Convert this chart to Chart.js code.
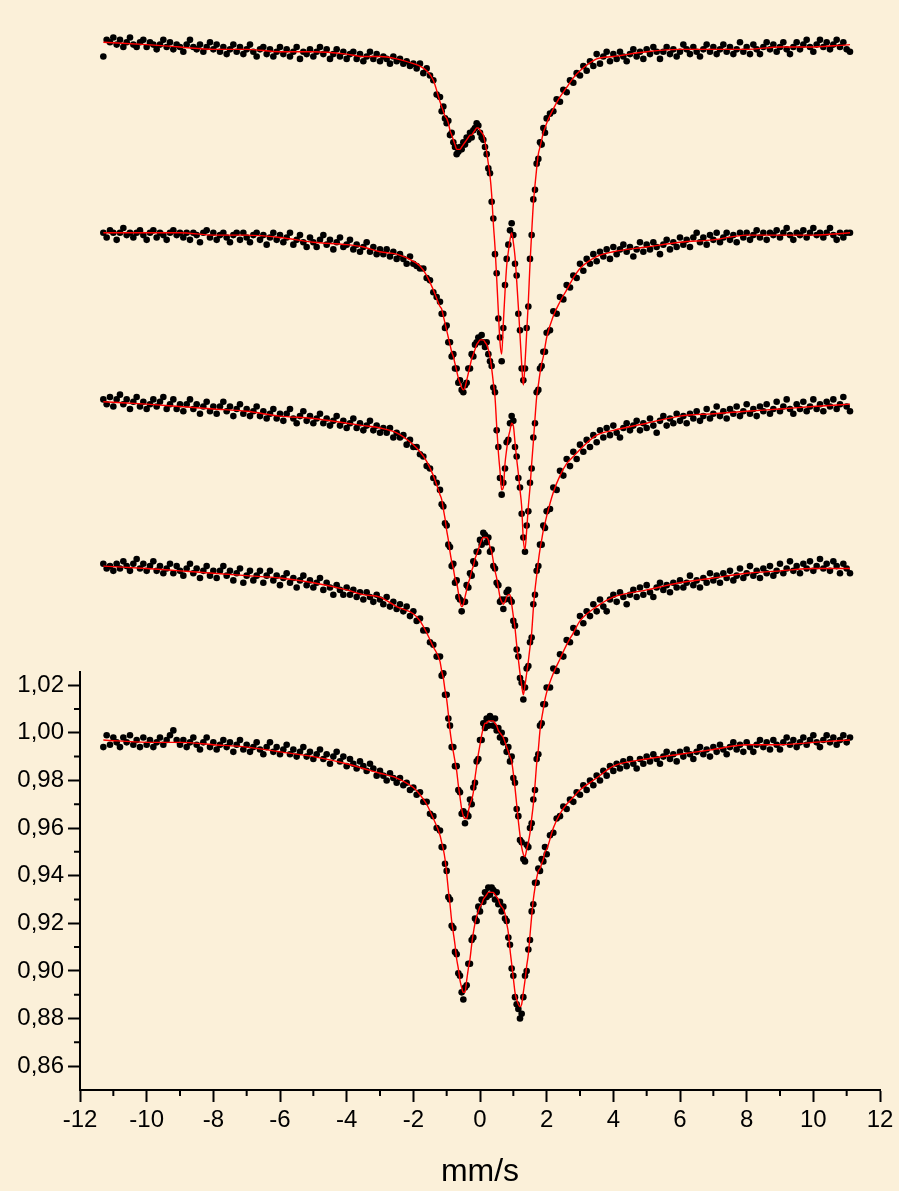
<!DOCTYPE html>
<html>
<head>
<meta charset="utf-8">
<script src="https://cdn.jsdelivr.net/npm/chart.js@4.4.1/dist/chart.umd.min.js"></script>
<style>
  html, body { margin: 0; padding: 0; background: #fbf0d9; }
  #wrap { width: 899px; height: 1191px; }
</style>
</head>
<body>
<div id="wrap"><canvas id="spectra" width="899" height="1191"></canvas></div>
<script>
// velocity channels (mm/s) for the measured points
const dotX = [
  -11.3,-11.2,-11.1,-11,-10.9,-10.8,-10.7,-10.6,-10.5,-10.4,-10.3,-10.2,-10.1,-10,
  -9.9,-9.8,-9.7,-9.6,-9.5,-9.4,-9.3,-9.2,-9.1,-9,
  -8.9,-8.8,-8.7,-8.6,-8.5,-8.4,-8.3,-8.2,-8.1,-8,
  -7.9,-7.8,-7.7,-7.6,-7.5,-7.4,-7.3,-7.2,-7.1,-7,
  -6.9,-6.8,-6.7,-6.6,-6.5,-6.4,-6.3,-6.2,-6.1,-6,
  -5.9,-5.8,-5.7,-5.6,-5.5,-5.4,-5.3,-5.2,-5.1,-5,
  -4.9,-4.8,-4.7,-4.6,-4.5,-4.4,-4.3,-4.2,-4.1,-4,
  -3.9,-3.8,-3.7,-3.6,-3.5,-3.4,-3.3,-3.2,-3.1,-3,
  -2.9,-2.8,-2.7,-2.6,-2.5,-2.4,-2.3,-2.2,-2.1,-2,
  -1.9,-1.8,-1.7,-1.6,-1.5,-1.4,-1.3,
  -1.2,-1.15,-1.1,-1.05,-1,-0.95,-0.9,-0.85,-0.8,-0.75,
  -0.7,-0.65,-0.6,-0.55,-0.5,-0.45,-0.4,-0.35,-0.3,-0.25,
  -0.2,-0.15,-0.1,-0.05,0,0.05,0.1,0.15,0.2,0.25,
  0.3,0.35,0.4,0.45,0.5,0.55,0.6,0.65,0.7,0.75,
  0.8,0.85,0.9,0.95,1,1.05,1.1,1.15,1.2,1.25,
  1.3,1.35,1.4,1.45,1.5,1.55,1.6,1.65,1.7,1.75,
  1.8,1.85,1.9,1.95,2,
  2.1,2.2,2.3,2.4,2.5,2.6,2.7,2.8,2.9,3,
  3.1,3.2,3.3,3.4,3.5,3.6,3.7,3.8,3.9,4,
  4.1,4.2,4.3,4.4,4.5,4.6,4.7,4.8,4.9,
  5,5.1,5.2,5.3,5.4,5.5,5.6,5.7,5.8,5.9,
  6,6.1,6.2,6.3,6.4,6.5,6.6,6.7,6.8,6.9,
  7,7.1,7.2,7.3,7.4,7.5,7.6,7.7,7.8,7.9,
  8,8.1,8.2,8.3,8.4,8.5,8.6,8.7,8.8,8.9,
  9,9.1,9.2,9.3,9.4,9.5,9.6,9.7,9.8,9.9,
  10,10.1,10.2,10.3,10.4,10.5,10.6,10.7,10.8,10.9,
  11,11.1
];

// velocities where the fitted curves are given
const lineX = [
  -11.3,-10,-9,-8,-7,-6,-5,-4,-3.5,-3,-2.5,-2,-1.8,-1.6,-1.4,
  -1.2,-1.15,-1.1,-1.05,-1,-0.95,-0.9,-0.85,-0.8,-0.75,
  -0.7,-0.65,-0.6,-0.55,-0.5,-0.45,-0.4,-0.35,-0.3,-0.25,
  -0.2,-0.15,-0.1,-0.05,0,0.05,0.1,0.15,0.2,0.25,
  0.3,0.35,0.4,0.45,0.5,0.55,0.6,0.65,0.7,0.75,
  0.8,0.85,0.9,0.95,1,1.05,1.1,1.15,1.2,1.25,
  1.3,1.35,1.4,1.45,1.5,1.55,1.6,1.65,1.7,1.75,
  1.8,1.85,1.9,1.95,2,
  2.2,2.4,2.6,2.8,3,3.5,4,5,6,7,8,9,10,11.1
];

// measured points, spectrum 1 (top) .. 5 (bottom)
const dots1 = [
  1.284,1.291,1.290,1.292,1.289,1.291,1.288,1.290,1.292,1.289,1.288,1.290,1.291,1.288,
  1.290,1.289,1.287,1.289,1.291,1.288,1.290,1.287,1.289,1.288,
  1.286,1.289,1.291,1.288,1.287,1.289,1.286,1.288,1.290,1.287,
  1.289,1.286,1.288,1.285,1.287,1.289,1.286,1.288,1.285,1.287,
  1.289,1.286,1.284,1.287,1.288,1.285,1.287,1.284,1.286,1.288,
  1.285,1.287,1.284,1.286,1.288,1.283,1.286,1.285,1.287,1.284,
  1.286,1.288,1.285,1.287,1.283,1.285,1.287,1.284,1.286,1.283,
  1.285,1.286,1.283,1.285,1.282,1.284,1.286,1.283,1.285,1.282,
  1.284,1.283,1.281,1.284,1.282,1.283,1.281,1.282,1.280,1.281,
  1.279,1.281,1.277,1.279,1.276,1.274,1.268,
  1.267,1.261,1.263,1.258,1.256,1.257,1.251,1.252,1.248,1.246,
  1.243,1.244,1.246,1.245,1.248,1.247,1.250,1.249,1.252,1.250,
  1.253,1.254,1.256,1.255,1.252,1.250,1.249,1.246,1.243,1.237,
  1.235,1.223,1.216,1.201,1.193,1.174,1.166,1.156,1.170,1.188,
  1.199,1.205,1.211,1.214,1.209,1.197,1.192,1.176,1.169,1.153,
  1.148,1.153,1.170,1.179,1.199,1.209,1.224,1.228,1.239,1.241,
  1.248,1.247,1.254,1.252,1.258,
  1.260,1.261,1.266,1.265,1.270,1.269,1.274,1.273,1.277,1.276,
  1.280,1.278,1.282,1.280,1.285,1.281,1.284,1.286,1.282,1.285,
  1.283,1.286,1.284,1.282,1.285,1.287,1.284,1.286,1.283,
  1.287,1.285,1.288,1.286,1.283,1.286,1.288,1.285,1.287,1.284,
  1.286,1.289,1.287,1.285,1.288,1.286,1.284,1.287,1.289,1.286,
  1.288,1.285,1.287,1.289,1.286,1.288,1.285,1.287,1.290,1.286,
  1.288,1.285,1.289,1.287,1.285,1.288,1.290,1.287,1.289,1.286,
  1.288,1.290,1.287,1.285,1.288,1.290,1.287,1.289,1.291,1.288,
  1.286,1.289,1.291,1.288,1.290,1.287,1.289,1.291,1.288,1.290,
  1.287,1.286
];
const dots2 = [
  1.210,1.208,1.211,1.210,1.207,1.210,1.212,1.209,1.210,1.208,1.210,1.211,1.209,1.207,
  1.210,1.211,1.208,1.210,1.209,1.207,1.210,1.211,1.209,1.210,
  1.208,1.210,1.207,1.210,1.209,1.206,1.210,1.211,1.208,1.210,
  1.207,1.209,1.210,1.208,1.206,1.209,1.210,1.207,1.210,1.208,
  1.206,1.209,1.210,1.207,1.209,1.205,1.208,1.210,1.207,1.209,
  1.206,1.208,1.210,1.205,1.207,1.209,1.206,1.204,1.208,1.206,
  1.204,1.207,1.209,1.205,1.207,1.203,1.206,1.208,1.204,1.205,
  1.207,1.203,1.205,1.202,1.204,1.206,1.202,1.204,1.201,1.203,
  1.201,1.203,1.200,1.202,1.199,1.201,1.199,1.197,1.200,1.197,
  1.196,1.195,1.195,1.191,1.190,1.185,1.183,
  1.181,1.176,1.176,1.170,1.171,1.164,1.164,1.158,1.159,1.153,
  1.153,1.147,1.148,1.144,1.143,1.146,1.147,1.153,1.153,1.159,
  1.158,1.163,1.164,1.166,1.164,1.167,1.164,1.162,1.164,1.159,
  1.156,1.154,1.145,1.143,1.127,1.120,1.107,1.100,1.105,1.111,
  1.122,1.123,1.130,1.133,1.131,1.120,1.116,1.107,1.103,1.092,
  1.082,1.076,1.087,1.093,1.105,1.111,1.124,1.130,1.143,1.144,
  1.153,1.154,1.160,1.160,1.168,
  1.169,1.177,1.176,1.183,1.182,1.188,1.187,1.192,1.191,1.197,
  1.194,1.199,1.197,1.201,1.198,1.202,1.200,1.203,1.199,1.204,
  1.201,1.203,1.205,1.202,1.204,1.200,1.203,1.206,1.202,1.205,
  1.203,1.206,1.204,1.201,1.205,1.207,1.203,1.206,1.204,1.208,
  1.205,1.207,1.204,1.208,1.210,1.206,1.208,1.205,1.209,1.207,
  1.210,1.206,1.208,1.210,1.207,1.209,1.206,1.210,1.208,1.210,
  1.207,1.209,1.211,1.208,1.210,1.207,1.210,1.209,1.211,1.208,
  1.210,1.212,1.209,1.207,1.210,1.209,1.211,1.208,1.210,1.212,
  1.209,1.210,1.208,1.210,1.212,1.209,1.207,1.210,1.208,1.210,1.210
];
const dots3 = [
  1.140,1.138,1.141,1.137,1.140,1.142,1.138,1.140,1.136,1.139,1.141,1.137,1.139,1.136,
  1.138,1.140,1.137,1.139,1.141,1.136,1.138,1.140,1.136,1.138,
  1.135,1.138,1.140,1.136,1.138,1.134,1.137,1.139,1.135,1.137,
  1.134,1.137,1.139,1.135,1.137,1.133,1.136,1.138,1.134,1.136,
  1.133,1.135,1.137,1.133,1.135,1.132,1.134,1.136,1.132,1.134,
  1.131,1.134,1.136,1.132,1.130,1.133,1.135,1.131,1.133,1.130,
  1.132,1.134,1.130,1.132,1.129,1.131,1.133,1.129,1.131,1.128,
  1.130,1.132,1.128,1.130,1.127,1.129,1.131,1.127,1.129,1.126,
  1.128,1.126,1.128,1.124,1.126,1.124,1.125,1.121,1.123,1.120,
  1.120,1.117,1.116,1.112,1.111,1.107,1.105,
  1.102,1.096,1.095,1.088,1.087,1.079,1.078,1.070,1.071,1.063,
  1.064,1.057,1.056,1.051,1.055,1.055,1.062,1.061,1.067,1.066,
  1.072,1.071,1.076,1.076,1.081,1.079,1.084,1.083,1.080,1.082,
  1.076,1.077,1.070,1.069,1.063,1.062,1.055,1.056,1.052,1.056,
  1.059,1.060,1.056,1.055,1.047,1.045,1.035,1.032,1.023,1.021,
  1.014,1.019,1.027,1.028,1.038,1.040,1.054,1.058,1.068,1.070,
  1.079,1.079,1.087,1.086,1.093,
  1.094,1.103,1.102,1.110,1.108,1.115,1.112,1.118,1.115,1.121,
  1.118,1.123,1.120,1.125,1.122,1.127,1.124,1.128,1.125,1.129,
  1.126,1.124,1.128,1.130,1.127,1.129,1.131,1.127,1.130,1.128,
  1.132,1.129,1.126,1.131,1.133,1.129,1.132,1.130,1.134,1.131,
  1.133,1.130,1.134,1.132,1.135,1.131,1.133,1.136,1.132,1.134,
  1.137,1.133,1.135,1.132,1.136,1.134,1.137,1.133,1.135,1.138,
  1.134,1.136,1.133,1.137,1.135,1.138,1.134,1.136,1.139,1.135,
  1.137,1.140,1.136,1.134,1.138,1.136,1.139,1.135,1.137,1.140,
  1.136,1.138,1.135,1.139,1.137,1.140,1.136,1.138,1.141,1.137,1.135
];
const dots4 = [
  1.071,1.069,1.070,1.068,1.071,1.069,1.072,1.070,1.068,1.071,1.073,1.069,1.071,1.068,
  1.070,1.072,1.068,1.070,1.067,1.069,1.071,1.067,1.070,1.068,
  1.066,1.069,1.071,1.067,1.069,1.065,1.068,1.070,1.066,1.068,
  1.065,1.068,1.070,1.066,1.068,1.064,1.067,1.069,1.063,1.066,
  1.068,1.064,1.066,1.068,1.063,1.066,1.068,1.064,1.066,1.062,
  1.065,1.067,1.063,1.065,1.061,1.064,1.066,1.062,1.064,1.061,
  1.063,1.065,1.060,1.063,1.061,1.058,1.062,1.060,1.058,1.061,
  1.058,1.060,1.057,1.059,1.056,1.059,1.057,1.055,1.058,1.056,
  1.054,1.057,1.053,1.055,1.052,1.054,1.051,1.053,1.049,1.051,
  1.047,1.048,1.043,1.043,1.038,1.037,1.032,
  1.032,1.024,1.025,1.016,1.016,1.006,1.003,0.994,0.994,0.986,
  0.986,0.976,0.975,0.966,0.967,0.962,0.966,0.965,0.972,0.970,
  0.977,0.979,0.988,0.989,0.997,0.997,1.004,1.002,1.006,1.003,
  1.007,1.006,1.003,1.006,1.001,1.002,0.998,1.000,0.996,0.997,
  0.992,0.994,0.988,0.990,0.981,0.979,0.968,0.965,0.955,0.954,
  0.947,0.946,0.953,0.952,0.960,0.962,0.972,0.976,0.989,0.991,
  1.003,1.004,1.012,1.012,1.019,
  1.019,1.027,1.026,1.033,1.032,1.039,1.038,1.044,1.042,1.049,
  1.046,1.051,1.049,1.054,1.051,1.056,1.053,1.051,1.056,1.058,
  1.055,1.059,1.057,1.054,1.058,1.060,1.057,1.061,1.058,1.062,
  1.059,1.057,1.061,1.063,1.060,1.062,1.059,1.063,1.061,1.064,
  1.061,1.063,1.066,1.062,1.064,1.061,1.065,1.063,1.067,1.064,
  1.066,1.063,1.067,1.065,1.068,1.064,1.066,1.069,1.065,1.067,
  1.070,1.066,1.068,1.065,1.069,1.067,1.070,1.066,1.068,1.071,
  1.067,1.069,1.072,1.068,1.070,1.067,1.071,1.069,1.072,1.068,
  1.070,1.073,1.069,1.071,1.068,1.072,1.070,1.067,1.071,1.069,1.067
];
const dots5 = [
  0.994,0.999,0.995,0.998,0.996,0.994,0.998,0.996,0.999,0.995,0.997,0.994,0.998,0.995,
  0.997,0.994,0.996,0.998,0.995,0.997,0.999,1.001,0.997,0.995,
  0.997,0.994,0.996,0.998,0.995,0.993,0.996,0.998,0.994,0.996,
  0.993,0.995,0.997,0.994,0.996,0.992,0.995,0.997,0.993,0.995,
  0.992,0.994,0.996,0.993,0.991,0.994,0.996,0.992,0.994,0.991,
  0.993,0.995,0.991,0.993,0.990,0.992,0.994,0.990,0.992,0.989,
  0.991,0.993,0.989,0.991,0.987,0.990,0.992,0.988,0.990,0.986,
  0.989,0.987,0.985,0.988,0.986,0.984,0.987,0.985,0.982,0.984,
  0.982,0.980,0.983,0.981,0.979,0.981,0.978,0.979,0.976,0.977,
  0.974,0.975,0.971,0.971,0.966,0.965,0.960,
  0.959,0.952,0.952,0.945,0.942,0.931,0.930,0.919,0.918,0.908,
  0.907,0.899,0.898,0.891,0.888,0.893,0.894,0.903,0.903,0.913,
  0.914,0.922,0.921,0.927,0.925,0.930,0.929,0.933,0.931,0.935,
  0.932,0.935,0.934,0.930,0.933,0.928,0.929,0.925,0.927,0.922,
  0.921,0.914,0.911,0.901,0.898,0.889,0.886,0.884,0.880,0.882,
  0.889,0.898,0.900,0.909,0.913,0.925,0.928,0.937,0.937,0.943,
  0.942,0.947,0.946,0.952,0.949,
  0.957,0.958,0.964,0.965,0.969,0.968,0.972,0.971,0.975,0.974,
  0.978,0.976,0.980,0.978,0.982,0.980,0.984,0.982,0.986,0.984,
  0.987,0.985,0.988,0.986,0.989,0.987,0.985,0.989,0.987,0.990,
  0.988,0.991,0.989,0.987,0.990,0.992,0.989,0.991,0.988,0.992,
  0.990,0.993,0.991,0.989,0.992,0.994,0.991,0.993,0.990,0.994,
  0.992,0.995,0.993,0.991,0.994,0.996,0.993,0.995,0.992,0.996,
  0.994,0.992,0.995,0.997,0.994,0.996,0.993,0.997,0.995,0.993,
  0.996,0.998,0.995,0.997,0.994,0.996,0.998,0.995,0.997,0.999,
  0.996,0.994,0.997,0.999,0.996,0.998,0.995,0.997,0.999,0.996,0.998
];

// fitted curves
const fit1 = [
  1.290,1.289,1.288,1.287,1.287,1.286,1.286,1.285,1.284,1.284,1.283,1.281,1.280,1.278,1.274,
  1.265,1.263,1.261,1.259,1.258,1.256,1.253,1.251,1.249,1.247,
  1.245,1.245,1.245,1.246,1.247,1.248,1.249,1.250,1.251,1.251,
  1.252,1.253,1.254,1.254,1.253,1.252,1.251,1.248,1.244,1.239,
  1.234,1.226,1.214,1.204,1.191,1.177,1.164,1.159,1.172,1.185,
  1.196,1.202,1.207,1.210,1.206,1.200,1.190,1.179,1.167,1.155,
  1.146,1.155,1.168,1.181,1.197,1.210,1.222,1.230,1.237,1.243,
  1.246,1.249,1.252,1.254,1.256,
  1.262,1.267,1.271,1.275,1.278,1.283,1.284,1.286,1.287,1.287,1.287,1.288,1.288,1.289
];
const fit2 = [
  1.210,1.210,1.210,1.209,1.209,1.208,1.206,1.205,1.204,1.202,1.201,1.198,1.196,1.192,1.186,
  1.179,1.178,1.175,1.172,1.169,1.166,1.163,1.160,1.158,1.155,
  1.152,1.149,1.147,1.145,1.144,1.145,1.148,1.151,1.154,1.157,
  1.159,1.161,1.163,1.164,1.165,1.165,1.165,1.164,1.163,1.161,
  1.158,1.153,1.147,1.141,1.129,1.118,1.110,1.102,1.103,1.113,
  1.119,1.124,1.127,1.130,1.129,1.122,1.115,1.109,1.102,1.095,
  1.081,1.077,1.085,1.095,1.103,1.113,1.122,1.132,1.141,1.146,
  1.151,1.155,1.158,1.162,1.166,
  1.175,1.181,1.186,1.191,1.195,1.200,1.202,1.204,1.206,1.207,1.209,1.209,1.209,1.210
];
const fit3 = [
  1.139,1.138,1.137,1.136,1.135,1.133,1.132,1.130,1.129,1.128,1.126,1.121,1.118,1.114,1.108,
  1.100,1.098,1.094,1.090,1.085,1.081,1.076,1.072,1.069,1.065,
  1.063,1.059,1.055,1.053,1.054,1.057,1.060,1.063,1.065,1.068,
  1.070,1.073,1.075,1.077,1.079,1.081,1.082,1.082,1.082,1.081,
  1.078,1.076,1.072,1.068,1.065,1.061,1.057,1.055,1.054,1.055,
  1.057,1.058,1.058,1.054,1.049,1.044,1.037,1.031,1.025,1.020,
  1.016,1.020,1.025,1.030,1.036,1.042,1.052,1.060,1.066,1.072,
  1.077,1.081,1.085,1.088,1.091,
  1.101,1.108,1.113,1.116,1.119,1.125,1.127,1.130,1.133,1.134,1.135,1.136,1.137,1.138
];
const fit4 = [
  1.070,1.069,1.068,1.067,1.066,1.065,1.063,1.060,1.058,1.057,1.053,1.050,1.047,1.042,1.036,
  1.030,1.026,1.023,1.018,1.014,1.008,1.001,0.996,0.992,0.988,
  0.984,0.978,0.973,0.968,0.965,0.964,0.964,0.967,0.970,0.972,
  0.975,0.981,0.986,0.991,0.995,0.999,1.002,1.004,1.004,1.005,
  1.005,1.005,1.005,1.004,1.003,1.001,1.000,0.999,0.998,0.996,
  0.994,0.992,0.990,0.988,0.983,0.977,0.970,0.963,0.957,0.952,
  0.949,0.948,0.951,0.954,0.958,0.964,0.970,0.978,0.987,0.993,
  1.001,1.006,1.010,1.014,1.017,
  1.025,1.031,1.037,1.042,1.047,1.053,1.057,1.060,1.063,1.065,1.067,1.068,1.069,1.069
];
const fit5 = [
  0.997,0.996,0.996,0.995,0.994,0.992,0.990,0.987,0.985,0.983,0.981,0.977,0.974,0.970,0.964,
  0.957,0.954,0.951,0.947,0.941,0.934,0.928,0.921,0.916,0.911,
  0.905,0.901,0.896,0.893,0.891,0.891,0.896,0.901,0.905,0.911,
  0.916,0.920,0.923,0.925,0.927,0.928,0.930,0.931,0.932,0.933,
  0.933,0.933,0.933,0.932,0.931,0.930,0.928,0.927,0.926,0.924,
  0.920,0.916,0.909,0.903,0.897,0.891,0.888,0.886,0.885,0.886,
  0.891,0.896,0.902,0.907,0.915,0.923,0.930,0.935,0.939,0.942,
  0.943,0.945,0.947,0.950,0.951,
  0.960,0.966,0.970,0.973,0.976,0.981,0.986,0.989,0.991,0.993,0.995,0.995,0.996,0.997
];

// axis ticks
const xTicks = [-12,-10,-8,-6,-4,-2,0,2,4,6,8,10,12];
const xMinorTicks = [-11,-9,-7,-5,-3,-1,1,3,5,7,9,11];
const yTicks = [0.86,0.88,0.90,0.92,0.94,0.96,0.98,1.00,1.02];
const yMinorTicks = [0.87,0.89,0.91,0.93,0.95,0.97,0.99,1.01];
const yAxisTop = 1.026;

const FONT = "'Liberation Sans', Arial, Helvetica, sans-serif";

// 점 데이터셋과 피팅 곡선 데이터셋 만들기
function buildDatasets() {
  const dotSeries = [dots1, dots2, dots3, dots4, dots5];
  const fitSeries = [fit1, fit2, fit3, fit4, fit5];
  const sets = [];
  fitSeries.forEach(fit => {
    sets.push({
      data: lineX.map((x, i) => ({ x: x, y: fit[i] })),
      showLine: true,
      borderColor: '#ff0000',
      borderWidth: 1.4,
      pointRadius: 0,
      cubicInterpolationMode: 'monotone',
      order: 0
    });
  });
  dotSeries.forEach(d => {
    if (d.length !== dotX.length) console.error('length mismatch', d.length);
    sets.push({
      data: dotX.map((x, i) => ({ x: x, y: d[i] })),
      showLine: false,
      pointRadius: 3.3,
      pointBorderWidth: 0,
      pointBackgroundColor: '#000',
      order: 1
    });
  });
  return sets;
}

// y축 선은 눈금 범위까지만, 보조 눈금은 직접 그림
const axisPlugin = {
  id: 'axisLines',
  afterDraw(chart) {
    const { ctx, chartArea } = chart;
    const xs = chart.scales.x;
    const ys = chart.scales.y;
    ctx.save();
    ctx.strokeStyle = '#000';
    ctx.lineWidth = 2;
    ctx.beginPath();
    ctx.moveTo(chartArea.left, chartArea.bottom + 1);
    ctx.lineTo(chartArea.left, ys.getPixelForValue(yAxisTop));
    yMinorTicks.forEach(v => {
      const p = ys.getPixelForValue(v);
      ctx.moveTo(chartArea.left, p);
      ctx.lineTo(chartArea.left - 6, p);
    });
    xMinorTicks.forEach(v => {
      const p = xs.getPixelForValue(v);
      ctx.moveTo(p, chartArea.bottom);
      ctx.lineTo(p, chartArea.bottom + 6);
    });
    ctx.stroke();
    ctx.restore();
  }
};

const ctx = document.getElementById('spectra').getContext('2d');
new Chart(ctx, {
  type: 'scatter',
  data: { datasets: buildDatasets() },
  options: {
    responsive: false,
    animation: false,
    devicePixelRatio: 1,
    events: [],
    layout: { padding: { top: 16, right: 19, bottom: 0, left: 0 } },
    plugins: { legend: { display: false }, tooltip: { enabled: false } },
    scales: {
      x: {
        type: 'linear',
        min: -12,
        max: 12,
        afterBuildTicks: s => { s.ticks = xTicks.map(v => ({ value: v })); },
        afterFit: s => { s.height = 101; },
        ticks: {
          color: '#000',
          font: { family: FONT, size: 24 },
          padding: 4,
          maxRotation: 0,
          autoSkip: false,
          callback: v => String(v)
        },
        grid: { display: true, drawOnChartArea: false, drawTicks: true, tickLength: 12, tickWidth: 2, tickColor: '#000' },
        border: { display: true, color: '#000', width: 2 },
        title: {
          display: true,
          text: 'mm/s',
          color: '#000',
          font: { family: FONT, size: 32 },
          padding: { top: 0, bottom: 0 }
        }
      },
      y: {
        type: 'linear',
        min: 0.85,
        max: 1.30,
        afterBuildTicks: s => { s.ticks = yTicks.map(v => ({ value: v })); },
        afterFit: s => { s.width = 80; },
        ticks: {
          color: '#000',
          font: { family: FONT, size: 24 },
          padding: 4,
          autoSkip: false,
          callback: v => v.toFixed(2).replace('.', ',')
        },
        grid: { display: true, drawOnChartArea: false, drawTicks: true, tickLength: 12, tickWidth: 2, tickColor: '#000' },
        border: { display: false }
      }
    }
  },
  plugins: [axisPlugin]
});
</script>
</body>
</html>
